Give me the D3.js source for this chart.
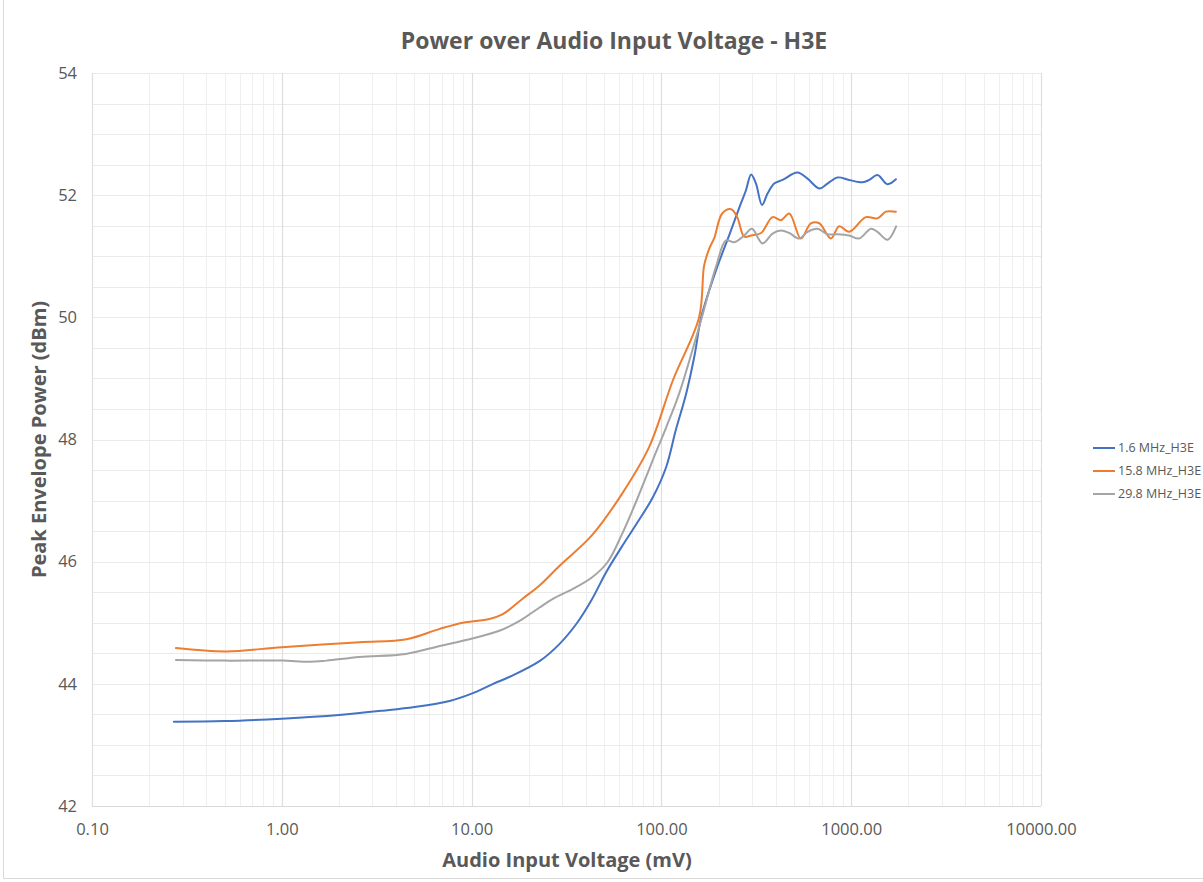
<!DOCTYPE html>
<html>
<head>
<meta charset="utf-8">
<script src="https://cdn.jsdelivr.net/npm/d3@7"></script>
<style>
  html, body { margin: 0; padding: 0; background: #ffffff; overflow: hidden; }
  svg { display: block; font-family: "Open Sans", "Noto Sans", sans-serif; }
</style>
</head>
<body>
<svg id="chart" width="1203" height="882"></svg>
<script>
// Audio input voltage (mV) and peak envelope power (dBm) per carrier frequency
const mv16 = [0.27, 0.5, 1.0, 2.0, 3.4, 5.0, 7.65, 10, 13, 16, 23, 29, 36, 43, 51, 62, 74, 90, 106, 119, 135, 150, 162, 194, 228, 262, 279, 297, 315, 339, 363, 393, 435, 521, 589, 679, 750, 847, 975, 1148, 1245, 1375, 1552, 1720];
const dbm16 = [43.38, 43.39, 43.43, 43.49, 43.56, 43.62, 43.72, 43.84, 44.0, 44.12, 44.38, 44.65, 45.0, 45.38, 45.82, 46.25, 46.62, 47.05, 47.55, 48.15, 48.75, 49.4, 50.0, 50.77, 51.35, 51.86, 52.08, 52.34, 52.19, 51.84, 52.03, 52.19, 52.25, 52.37, 52.27, 52.11, 52.19, 52.29, 52.25, 52.21, 52.25, 52.33, 52.18, 52.26];

const mv158 = [0.277, 0.51, 1.0, 2.57, 4.55, 6.8, 9.0, 12.4, 14.6, 18.5, 22.8, 29, 43, 62, 86, 115, 158, 168, 179, 190, 209, 233, 251, 273, 297, 335, 385, 427, 472, 543, 613, 679, 782, 864, 975, 1194, 1375, 1523, 1719];
const dbm158 = [44.585, 44.53, 44.6, 44.68, 44.73, 44.9, 45.0, 45.06, 45.14, 45.39, 45.61, 45.93, 46.43, 47.11, 47.87, 48.97, 50.0, 50.85, 51.13, 51.3, 51.7, 51.77, 51.64, 51.32, 51.34, 51.38, 51.64, 51.59, 51.7, 51.29, 51.54, 51.54, 51.29, 51.49, 51.4, 51.64, 51.62, 51.73, 51.73];

const mv298 = [0.277, 0.5, 1.0, 1.4, 1.72, 2.57, 4.5, 6.8, 9.75, 14, 17.9, 22.8, 26.8, 34, 43, 52, 62, 74, 90, 106, 124, 160, 194, 219, 242, 273, 300, 341, 385, 427, 472, 532, 589, 665, 750, 847, 975, 1101, 1270, 1375, 1552, 1725];
const dbm298 = [44.39, 44.38, 44.38, 44.36, 44.38, 44.44, 44.49, 44.62, 44.73, 44.87, 45.03, 45.25, 45.39, 45.55, 45.74, 45.99, 46.45, 47.0, 47.66, 48.2, 48.75, 49.9, 50.83, 51.26, 51.23, 51.34, 51.45, 51.21, 51.37, 51.42, 51.38, 51.29, 51.4, 51.45, 51.36, 51.36, 51.34, 51.29, 51.45, 51.4, 51.27, 51.49];

const seriesNames = ["1.6 MHz_H3E", "15.8 MHz_H3E", "29.8 MHz_H3E"];
const seriesColors = ["#4472C4", "#ED7D31", "#A5A5A5"];
const xTickValues = [0.1, 1, 10, 100, 1000, 10000];
const yTickValues = [42, 44, 46, 48, 50, 52, 54];

const titleText = "Power over Audio Input Voltage - H3E";
const xTitle = "Audio Input Voltage (mV)";
const yTitle = "Peak Envelope Power (dBm)";

const series = [
  { name: seriesNames[0], color: seriesColors[0], x: mv16, y: dbm16 },
  { name: seriesNames[1], color: seriesColors[1], x: mv158, y: dbm158 },
  { name: seriesNames[2], color: seriesColors[2], x: mv298, y: dbm298 }
];

const svg = d3.select("#chart");
const textColor = "#595959";

// Chart frame
svg.append("rect")
  .attr("x", 3.5).attr("y", -2).attr("width", 1210).attr("height", 880.5)
  .attr("fill", "none").attr("stroke", "#d9d9d9").attr("stroke-width", 1);

const plot = { left: 92, right: 1041, top: 73, bottom: 806 };
const x = d3.scaleLog().domain([0.1, 10000]).range([plot.left, plot.right]);
const y = d3.scaleLinear().domain([42, 54]).range([plot.bottom, plot.top]);

// Minor vertical grid (2..9 within each decade)
const minorX = [];
for (let d = 0.1; d < 10000; d *= 10) {
  for (let m = 2; m <= 9; m++) minorX.push(d * m);
}
const grid = svg.append("g");
grid.selectAll(".vminor").data(minorX).join("line")
  .attr("x1", d => Math.round(x(d)) + 0.5).attr("x2", d => Math.round(x(d)) + 0.5)
  .attr("y1", plot.top).attr("y2", plot.bottom)
  .attr("stroke", "#efefef").attr("stroke-width", 1);

// Horizontal grid every 0.5 dBm
const hLines = d3.range(42.5, 54.01, 0.5);
grid.selectAll(".h").data(hLines).join("line")
  .attr("x1", plot.left).attr("x2", plot.right)
  .attr("y1", d => Math.round(y(d)) + 0.5).attr("y2", d => Math.round(y(d)) + 0.5)
  .attr("stroke", "#eaeaea").attr("stroke-width", 1);

// Decade grid lines
grid.selectAll(".vmajor").data(xTickValues).join("line")
  .attr("x1", d => Math.round(x(d)) + 0.5).attr("x2", d => Math.round(x(d)) + 0.5)
  .attr("y1", plot.top).attr("y2", plot.bottom)
  .attr("stroke", "#dedede").attr("stroke-width", 1.2);

// Axis base line
grid.append("line")
  .attr("x1", plot.left).attr("x2", plot.right)
  .attr("y1", plot.bottom + 0.5).attr("y2", plot.bottom + 0.5)
  .attr("stroke", "#d9d9d9");

// Axes (labels only)
const xAxis = d3.axisBottom(x).tickValues(xTickValues).tickFormat(d3.format(".2f")).tickSize(0).tickPadding(0);
const gx = svg.append("g").attr("transform", `translate(0,${plot.bottom + 17})`).call(xAxis);
gx.select(".domain").remove();
gx.selectAll("text").attr("fill", textColor).attr("font-size", 16.5).attr("dy", "0.71em")
  .attr("font-family", "'Open Sans', sans-serif");

const yAxis = d3.axisLeft(y).tickValues(yTickValues).tickFormat(d3.format("d")).tickSize(0).tickPadding(0);
const gy = svg.append("g").attr("transform", `translate(${plot.left - 15},0)`).call(yAxis);
gy.select(".domain").remove();
gy.selectAll("text").attr("fill", textColor).attr("font-size", 16.5)
  .attr("font-family", "'Open Sans', sans-serif");

// Series lines
const line = d3.line()
  .x(d => x(d[0]))
  .y(d => y(d[1]))
  .curve(d3.curveCatmullRom.alpha(0.5));

const lines = svg.append("g");
series.forEach(s => {
  const pts = s.x.map((v, i) => [v, s.y[i]]);
  lines.append("path")
    .datum(pts)
    .attr("d", line)
    .attr("fill", "none")
    .attr("stroke", s.color)
    .attr("stroke-width", 2)
    .attr("stroke-linejoin", "round")
    .attr("stroke-linecap", "round");
});

// Title
svg.append("text")
  .attr("x", 614).attr("y", 49)
  .attr("text-anchor", "middle")
  .attr("fill", textColor)
  .attr("font-size", 23).attr("font-weight", 700)
  .text(titleText);

// Axis titles
svg.append("text")
  .attr("x", 567).attr("y", 867)
  .attr("text-anchor", "middle")
  .attr("fill", textColor)
  .attr("font-size", 20).attr("font-weight", 700)
  .text(xTitle);

svg.append("text")
  .attr("transform", `translate(46,${(plot.top + plot.bottom) / 2}) rotate(-90)`)
  .attr("text-anchor", "middle")
  .attr("fill", textColor)
  .attr("font-size", 20).attr("font-weight", 700)
  .text(yTitle);

// Legend
const legend = svg.append("g").attr("transform", "translate(1093,448)");
series.forEach((s, i) => {
  const g = legend.append("g").attr("transform", `translate(0,${i * 23})`);
  g.append("line").attr("x1", 0).attr("x2", 22).attr("y1", 0).attr("y2", 0)
    .attr("stroke", s.color).attr("stroke-width", 2);
  g.append("text").attr("x", 25).attr("y", 0).attr("dy", "0.35em")
    .attr("fill", textColor).attr("font-size", 12.5)
    .text(s.name);
});
</script>
</body>
</html>
